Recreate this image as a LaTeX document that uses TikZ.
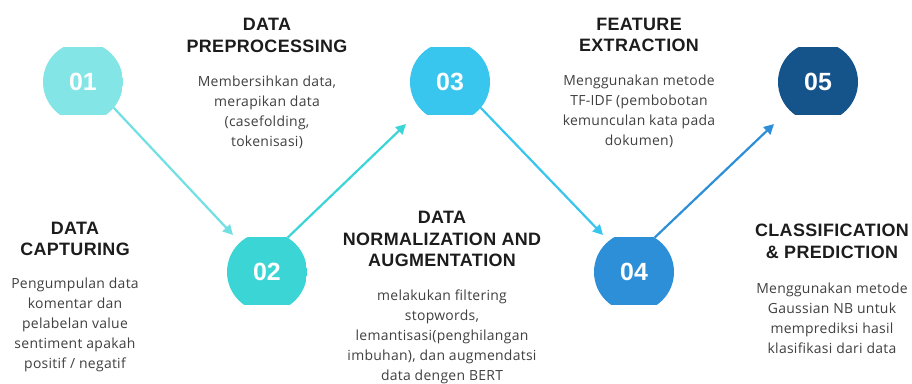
\documentclass[tikz,border=0pt]{standalone}
\usepackage{fontspec}
\usetikzlibrary{arrows.meta}
\newfontfamily\headfont{Liberation Sans}[LetterSpace=2]
\newfontfamily\numfont{Liberation Sans}
\newfontfamily\blurbfont{Open Sans}[LetterSpace=2]
\definecolor{stepA}{HTML}{84E5E6}
\definecolor{stepB}{HTML}{3CD5D6}
\definecolor{stepC}{HTML}{38C5EE}
\definecolor{stepD}{HTML}{2C8FD8}
\definecolor{stepE}{HTML}{14548B}
\definecolor{arrA}{HTML}{72E0E3}
\definecolor{headcol}{HTML}{1C1C1C}
\definecolor{bodycol}{HTML}{404040}
\begin{document}
\begin{tikzpicture}[x=1bp,y=-1bp,
  stepdot/.style={circle,minimum size=80bp,inner sep=0pt,
    font=\numfont\bfseries\fontsize{25}{25}\selectfont,text=white,
    path picture={\fill[#1]([yshift=7bp]path picture bounding box.south west)
      rectangle ([yshift=-5bp]path picture bounding box.north east);}},
  heading/.style={align=center,inner sep=0pt,text=headcol,
    font=\headfont\bfseries\fontsize{18}{21.5}\selectfont},
  blurb/.style={align=center,inner sep=0pt,text=bodycol,
    font=\blurbfont\fontsize{14}{20}\selectfont},
  link/.style={line width=2.2bp,-{Triangle[length=10bp,width=10bp]}}]
\clip (0,0) rectangle (912,383);
\fill[white] (0,0) rectangle (912,383);

% numbered steps
\node[stepdot=stepA] (s1) at (83,82) {01};
\node[stepdot=stepB] (s2) at (267,272) {02};
\node[stepdot=stepC] (s3) at (450,82) {03};
\node[stepdot=stepD] (s4) at (634,272) {04};
\node[stepdot=stepE] (s5) at (818,82) {05};

% arrow tips
\coordinate (t2) at (233,235);
\coordinate (t3) at (406,124);
\coordinate (t4) at (603,235);
\coordinate (t5) at (774,124);

\draw[link,arrA]  (s1.-40) -- (t2);
\draw[link,stepB] (s2.59) -- (t3);
\draw[link,stepC] (s3.-40) -- (t4);
\draw[link,stepD] (s4.59) -- (t5);

% headings and descriptions
\node[heading] (h2) at (267,35.5) {DATA\\PREPROCESSING};
\node[blurb] (b2) at (267,112) {Membersihkan data,\\merapikan data\\(casefolding,\\tokenisasi)};

\node[heading] (h4) at (639,35) {FEATURE\\EXTRACTION};
\node[blurb] (b4) at (639,111) {Menggunakan metode\\TF-IDF (pembobotan\\kemunculan kata pada\\dokumen)};

\node[heading] (h1) at (75,239) {DATA\\CAPTURING};
\node[blurb] (b1) at (75,325) {Pengumpulan data\\komentar dan\\pelabelan value\\sentiment apakah\\positif / negatif};

\node[heading] (h3) at (442,239) {DATA\\NORMALIZATION AND\\AUGMENTATION};
\node[blurb] (b3) at (442,337) {melakukan filtering\\stopwords,\\lemantisasi(penghilangan\\imbuhan), dan augmendatsi\\data dengen BERT};

\node[heading] (h5) at (832,241.5) {CLASSIFICATION\\\& PREDICTION};
\node[blurb] (b5) at (832,318) {Menggunakan metode\\Gaussian NB untuk\\memprediksi hasil\\klasifikasi dari data};
\end{tikzpicture}
\end{document}
